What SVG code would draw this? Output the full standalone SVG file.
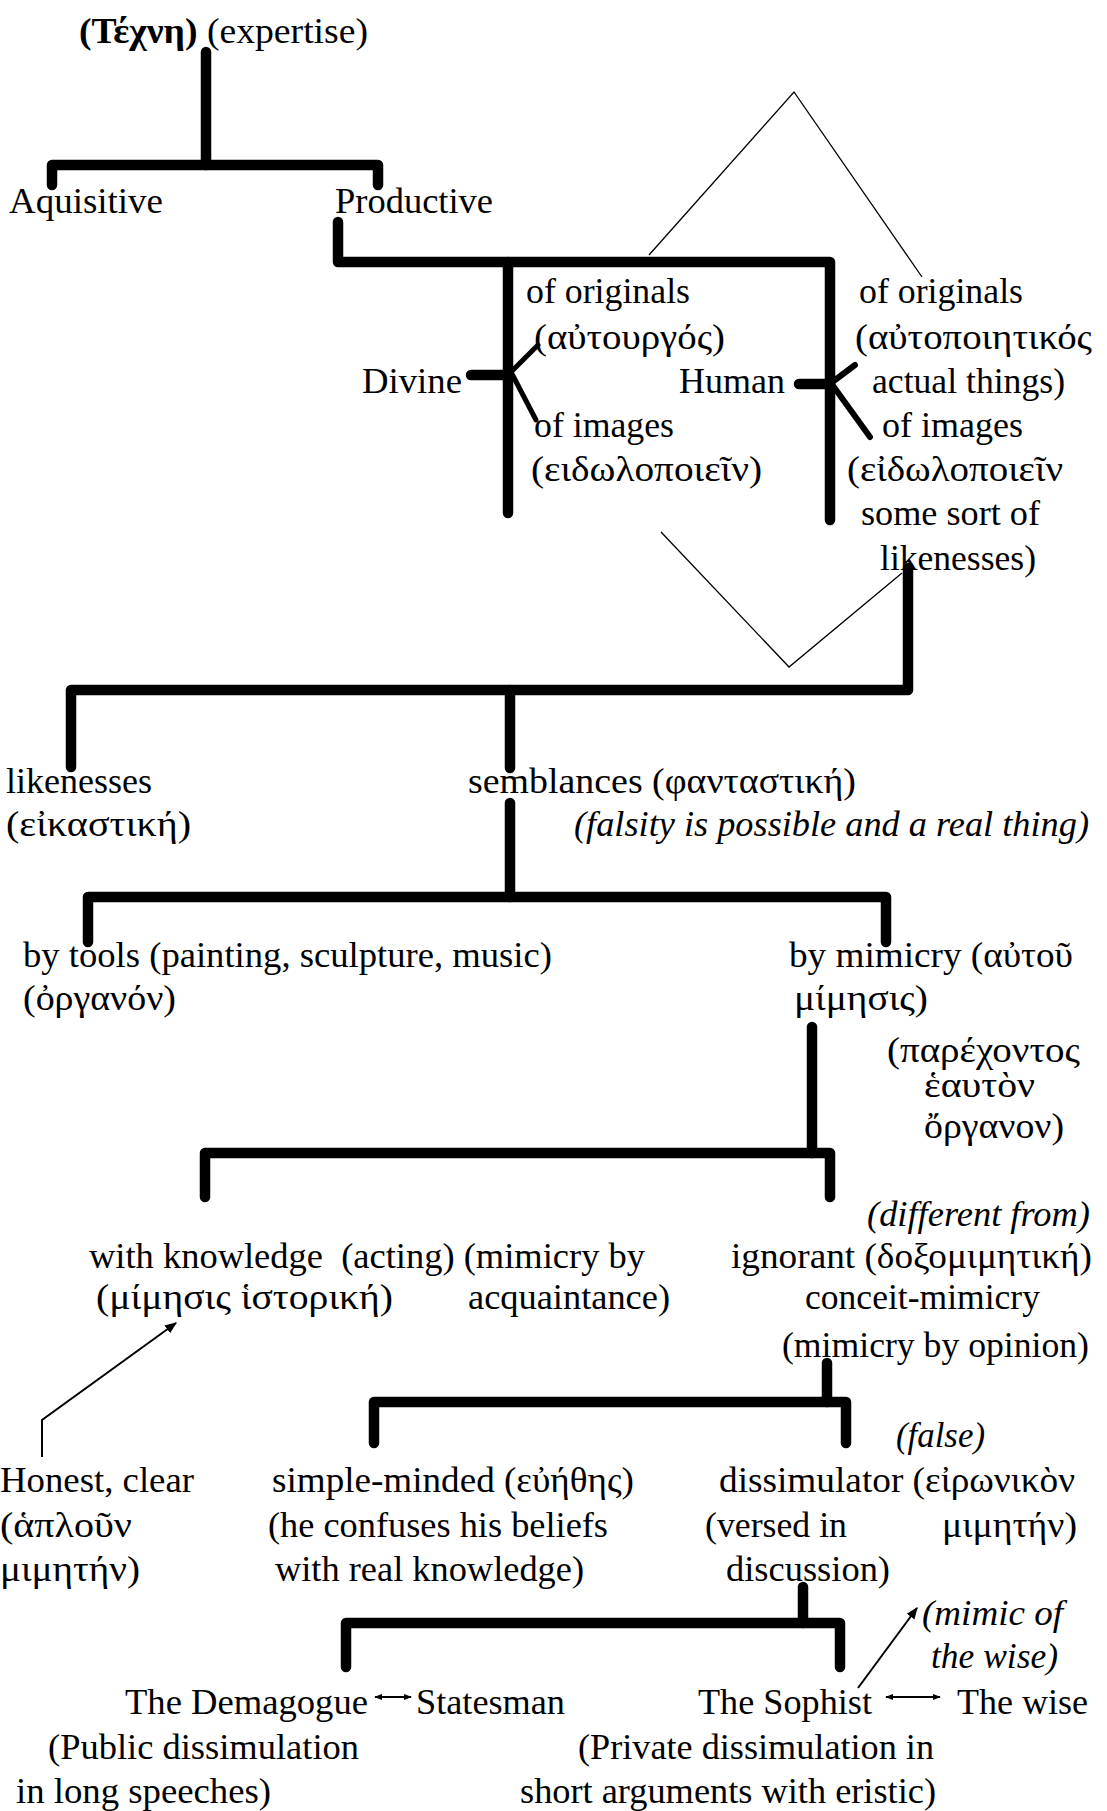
<svg xmlns="http://www.w3.org/2000/svg" width="1107" height="1811" viewBox="0 0 1107 1811">
<style>
.t{font-family:"Liberation Serif","DejaVu Serif",serif;font-size:35px;fill:#000;white-space:pre}
.i{font-style:italic}
.b{font-weight:bold}
.k{stroke:#000;stroke-width:10.5;fill:none;stroke-linecap:round;stroke-linejoin:round}
.f{stroke:#000;stroke-width:5;fill:none;stroke-linecap:round}
.h{stroke:#000;stroke-width:1.3;fill:none}
.a{stroke:#000;stroke-width:2;fill:none}
</style>
<defs>
<marker id="ah" viewBox="0 0 10 10" refX="9" refY="5" markerWidth="12" markerHeight="12" markerUnits="userSpaceOnUse" orient="auto-start-reverse"><path d="M0,1 L10,5 L0,9 z" fill="#000"/></marker>
<marker id="as" viewBox="0 0 10 10" refX="9" refY="5" markerWidth="8" markerHeight="8" markerUnits="userSpaceOnUse" orient="auto-start-reverse"><path d="M0,1 L10,5 L0,9 z" fill="#000"/></marker>
</defs>
<rect width="1107" height="1811" fill="#fff"/>
<g id="connectors">
<path class="k" d="M206,52 V165"/>
<path class="k" d="M52,185 V165 H378 V185"/>
<path class="k" d="M338,222 V262 H830 V520"/>
<path class="k" d="M508,262 V513"/>
<path class="k" d="M471,375 H508"/>
<path class="f" d="M511,372 L538,345 M511,372 L536,420"/>
<path class="k" d="M799,384 H830"/>
<path class="f" style="stroke-width:6" d="M831,383 L855,365 M831,383 L870,437"/>
<path class="h" d="M649,255 L794,92 L922,277"/>
<path class="h" d="M661,532 L789,667 L902,573"/>
<path class="k" d="M908,568 V690 H71 V767"/>
<path class="k" d="M510,690 V768"/>
<path class="k" d="M510,803 V897"/>
<path class="k" d="M88,942 V897 H886 V942"/>
<path class="k" d="M812,1027 V1153"/>
<path class="k" d="M205,1197 V1153 H830 V1197"/>
<path class="k" d="M827,1363 V1402"/>
<path class="k" d="M374,1443 V1402 H846 V1443"/>
<path class="k" d="M803,1587 V1623"/>
<path class="k" d="M346,1667 V1623 H840 V1667"/>
<path class="a" d="M42,1457 V1420 L176,1323" marker-end="url(#ah)"/>
<path class="a" d="M858,1688 L917,1608" marker-end="url(#ah)"/>
<path class="a" d="M375,1697 H411" marker-start="url(#as)" marker-end="url(#as)"/>
<path class="a" d="M886,1697 H940" marker-start="url(#as)" marker-end="url(#as)"/>
</g>
<g id="techne"><text class="t" x="79" y="43" textLength="289" lengthAdjust="spacingAndGlyphs"><tspan class="b">(Τέχνη)</tspan> (expertise)</text></g>
<g id="aquisitive"><text class="t" x="9" y="213" textLength="154" lengthAdjust="spacingAndGlyphs">Aquisitive</text></g>
<g id="productive"><text class="t" x="335" y="213" textLength="158" lengthAdjust="spacingAndGlyphs">Productive</text></g>
<g id="divine"><text class="t" x="362" y="393" textLength="100" lengthAdjust="spacingAndGlyphs">Divine</text></g>
<g id="divine-originals"><text class="t" x="526" y="303" textLength="164" lengthAdjust="spacingAndGlyphs">of originals</text><text class="t" x="534" y="349" textLength="191" lengthAdjust="spacingAndGlyphs">(αὐτουργός)</text></g>
<g id="divine-images"><text class="t" x="534" y="437" textLength="140" lengthAdjust="spacingAndGlyphs">of images</text><text class="t" x="531" y="481" textLength="231" lengthAdjust="spacingAndGlyphs">(ειδωλοποιεῖν)</text></g>
<g id="human"><text class="t" x="679" y="393" textLength="106" lengthAdjust="spacingAndGlyphs">Human</text></g>
<g id="human-originals"><text class="t" x="859" y="303" textLength="164" lengthAdjust="spacingAndGlyphs">of originals</text><text class="t" x="855" y="349" textLength="237" lengthAdjust="spacingAndGlyphs">(αὐτοποιητικός</text><text class="t" x="872" y="393" textLength="193" lengthAdjust="spacingAndGlyphs">actual things)</text></g>
<g id="human-images"><text class="t" x="882" y="437" textLength="141" lengthAdjust="spacingAndGlyphs">of images</text><text class="t" x="847" y="481" textLength="216" lengthAdjust="spacingAndGlyphs">(εἰδωλοποιεῖν</text><text class="t" x="861" y="525" textLength="179" lengthAdjust="spacingAndGlyphs">some sort of</text><text class="t" x="880" y="570" textLength="156" lengthAdjust="spacingAndGlyphs">likenesses)</text></g>
<g id="likenesses"><text class="t" x="6" y="793" textLength="146" lengthAdjust="spacingAndGlyphs">likenesses</text><text class="t" x="6" y="836" textLength="185" lengthAdjust="spacingAndGlyphs">(εἰκαστική)</text></g>
<g id="semblances"><text class="t" x="468" y="793" textLength="388" lengthAdjust="spacingAndGlyphs">semblances (φανταστική)</text><text class="t i" x="574" y="836" textLength="515" lengthAdjust="spacingAndGlyphs">(falsity is possible and a real thing)</text></g>
<g id="tools"><text class="t" x="23" y="967" textLength="529" lengthAdjust="spacingAndGlyphs">by tools (painting, sculpture, music)</text><text class="t" x="23" y="1010" textLength="153" lengthAdjust="spacingAndGlyphs">(ὀργανόν)</text></g>
<g id="mimicry"><text class="t" x="789" y="967" textLength="284" lengthAdjust="spacingAndGlyphs">by mimicry (αὐτοῦ</text><text class="t" x="794" y="1010" textLength="134" lengthAdjust="spacingAndGlyphs">μίμησις)</text><text class="t" x="887" y="1062" textLength="193" lengthAdjust="spacingAndGlyphs">(παρέχοντος</text><text class="t" x="924" y="1097" textLength="111" lengthAdjust="spacingAndGlyphs">ἑαυτὸν</text><text class="t" x="924" y="1138" textLength="140" lengthAdjust="spacingAndGlyphs">ὄργανον)</text></g>
<g id="knowledge"><text class="t" x="89" y="1268" textLength="556" lengthAdjust="spacingAndGlyphs">with knowledge  (acting) (mimicry by</text><text class="t" x="96" y="1309" textLength="297" lengthAdjust="spacingAndGlyphs">(μίμησις ἱστορική)</text><text class="t" x="468" y="1309" textLength="202" lengthAdjust="spacingAndGlyphs">acquaintance)</text></g>
<g id="ignorant"><text class="t i" x="867" y="1226" textLength="223" lengthAdjust="spacingAndGlyphs">(different from)</text><text class="t" x="731" y="1268" textLength="361" lengthAdjust="spacingAndGlyphs">ignorant (δοξομιμητική)</text><text class="t" x="805" y="1309" textLength="235" lengthAdjust="spacingAndGlyphs">conceit-mimicry</text><text class="t" x="782" y="1357" textLength="307" lengthAdjust="spacingAndGlyphs">(mimicry by opinion)</text></g>
<g id="honest"><text class="t" x="0" y="1492" textLength="194" lengthAdjust="spacingAndGlyphs">Honest, clear</text><text class="t" x="0" y="1537" textLength="132" lengthAdjust="spacingAndGlyphs">(ἁπλοῦν</text><text class="t" x="0" y="1581" textLength="140" lengthAdjust="spacingAndGlyphs">μιμητήν)</text></g>
<g id="simple"><text class="t" x="272" y="1492" textLength="362" lengthAdjust="spacingAndGlyphs">simple-minded (εὐήθης)</text><text class="t" x="268" y="1537" textLength="340" lengthAdjust="spacingAndGlyphs">(he confuses his beliefs</text><text class="t" x="275" y="1581" textLength="309" lengthAdjust="spacingAndGlyphs">with real knowledge)</text></g>
<g id="dissimulator"><text class="t i" x="896" y="1447" textLength="89" lengthAdjust="spacingAndGlyphs">(false)</text><text class="t" x="719" y="1492" textLength="356" lengthAdjust="spacingAndGlyphs">dissimulator (εἰρωνικὸν</text><text class="t" x="705" y="1537" textLength="142" lengthAdjust="spacingAndGlyphs">(versed in</text><text class="t" x="942" y="1537" textLength="135" lengthAdjust="spacingAndGlyphs">μιμητήν)</text><text class="t" x="726" y="1581" textLength="164" lengthAdjust="spacingAndGlyphs">discussion)</text></g>
<g id="demagogue"><text class="t" x="125" y="1714" textLength="243" lengthAdjust="spacingAndGlyphs">The Demagogue</text><text class="t" x="48" y="1759" textLength="311" lengthAdjust="spacingAndGlyphs">(Public dissimulation</text><text class="t" x="16" y="1803" textLength="255" lengthAdjust="spacingAndGlyphs">in long speeches)</text></g>
<g id="statesman"><text class="t" x="416" y="1714" textLength="149" lengthAdjust="spacingAndGlyphs">Statesman</text></g>
<g id="sophist"><text class="t" x="698" y="1714" textLength="174" lengthAdjust="spacingAndGlyphs">The Sophist</text><text class="t" x="578" y="1759" textLength="356" lengthAdjust="spacingAndGlyphs">(Private dissimulation in</text><text class="t" x="520" y="1803" textLength="416" lengthAdjust="spacingAndGlyphs">short arguments with eristic)</text></g>
<g id="wise"><text class="t" x="957" y="1714" textLength="131" lengthAdjust="spacingAndGlyphs">The wise</text><text class="t i" x="922" y="1625" textLength="141" lengthAdjust="spacingAndGlyphs">(mimic of</text><text class="t i" x="931" y="1668" textLength="127" lengthAdjust="spacingAndGlyphs">the wise)</text></g>
</svg>
